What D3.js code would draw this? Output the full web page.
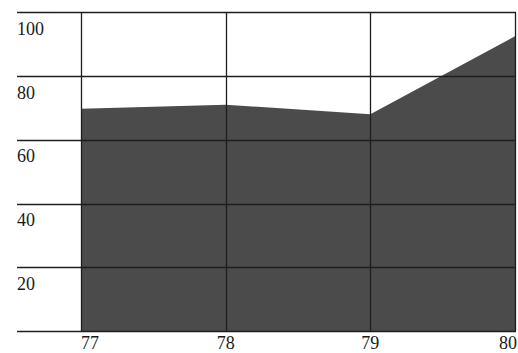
<!DOCTYPE html>
<html><head><meta charset="utf-8">
<script src="https://cdn.jsdelivr.net/npm/d3@7"></script>
<style>html,body{margin:0;padding:0;background:#fff;}svg{display:block;}</style>
</head><body>
<svg id="c" width="518" height="353"></svg>
<script>
const categories = ["77", "78", "79", "80"];
const values = [69.7, 71, 68, 92.5];
const yTicks = [0, 20, 40, 60, 80, 100];
const yLabels = ["", "20", "40", "60", "80", "100"];

(function () {
const svg = d3.select("#c");
const mLeft = 81, mRight = 515, mTop = 12.3, mBottom = 331, gridLeft = 17;
const x = d3.scalePoint().domain(categories).range([mLeft, mRight]);
const y = d3.scaleLinear().domain([0, 100]).range([mBottom, mTop]);

const area = d3.area().x((d, i) => x(categories[i])).y0(y(0)).y1(d => y(d));
svg.append("path").datum(values).attr("d", area).attr("fill", "#4b4b4b");

const ink = "#1e1e1e";
svg.append("g").selectAll("line").data(yTicks).join("line")
  .attr("x1", gridLeft).attr("x2", mRight + 1)
  .attr("y1", d => Math.round(y(d)) + 0.5).attr("y2", d => Math.round(y(d)) + 0.5)
  .attr("stroke", ink).attr("stroke-width", 1.3);

svg.append("g").selectAll("line").data(categories).join("line")
  .attr("x1", d => Math.round(x(d)) + 0.5).attr("x2", d => Math.round(x(d)) + 0.5)
  .attr("y1", y(100)).attr("y2", y(0))
  .attr("stroke", ink).attr("stroke-width", 1.3);

svg.append("g").selectAll("text").data(yTicks).join("text")
  .attr("x", gridLeft).attr("y", d => y(d) + 22.5)
  .text((d, i) => yLabels[i])
  .attr("font-family", "'Liberation Serif', 'DejaVu Serif', serif")
  .attr("font-size", 18).attr("fill", "#1a1a1a");

svg.append("g").selectAll("text").data(categories).join("text")
  .attr("x", (d, i) => i === 0 ? x(d) : (i === categories.length - 1 ? mRight + 2 : x(d)))
  .attr("text-anchor", (d, i) => i === 0 ? "start" : (i === categories.length - 1 ? "end" : "middle"))
  .attr("y", 349)
  .text(d => d)
  .attr("font-family", "'Liberation Serif', 'DejaVu Serif', serif")
  .attr("font-size", 18).attr("fill", "#1a1a1a");
})();
</script>
</body></html>
